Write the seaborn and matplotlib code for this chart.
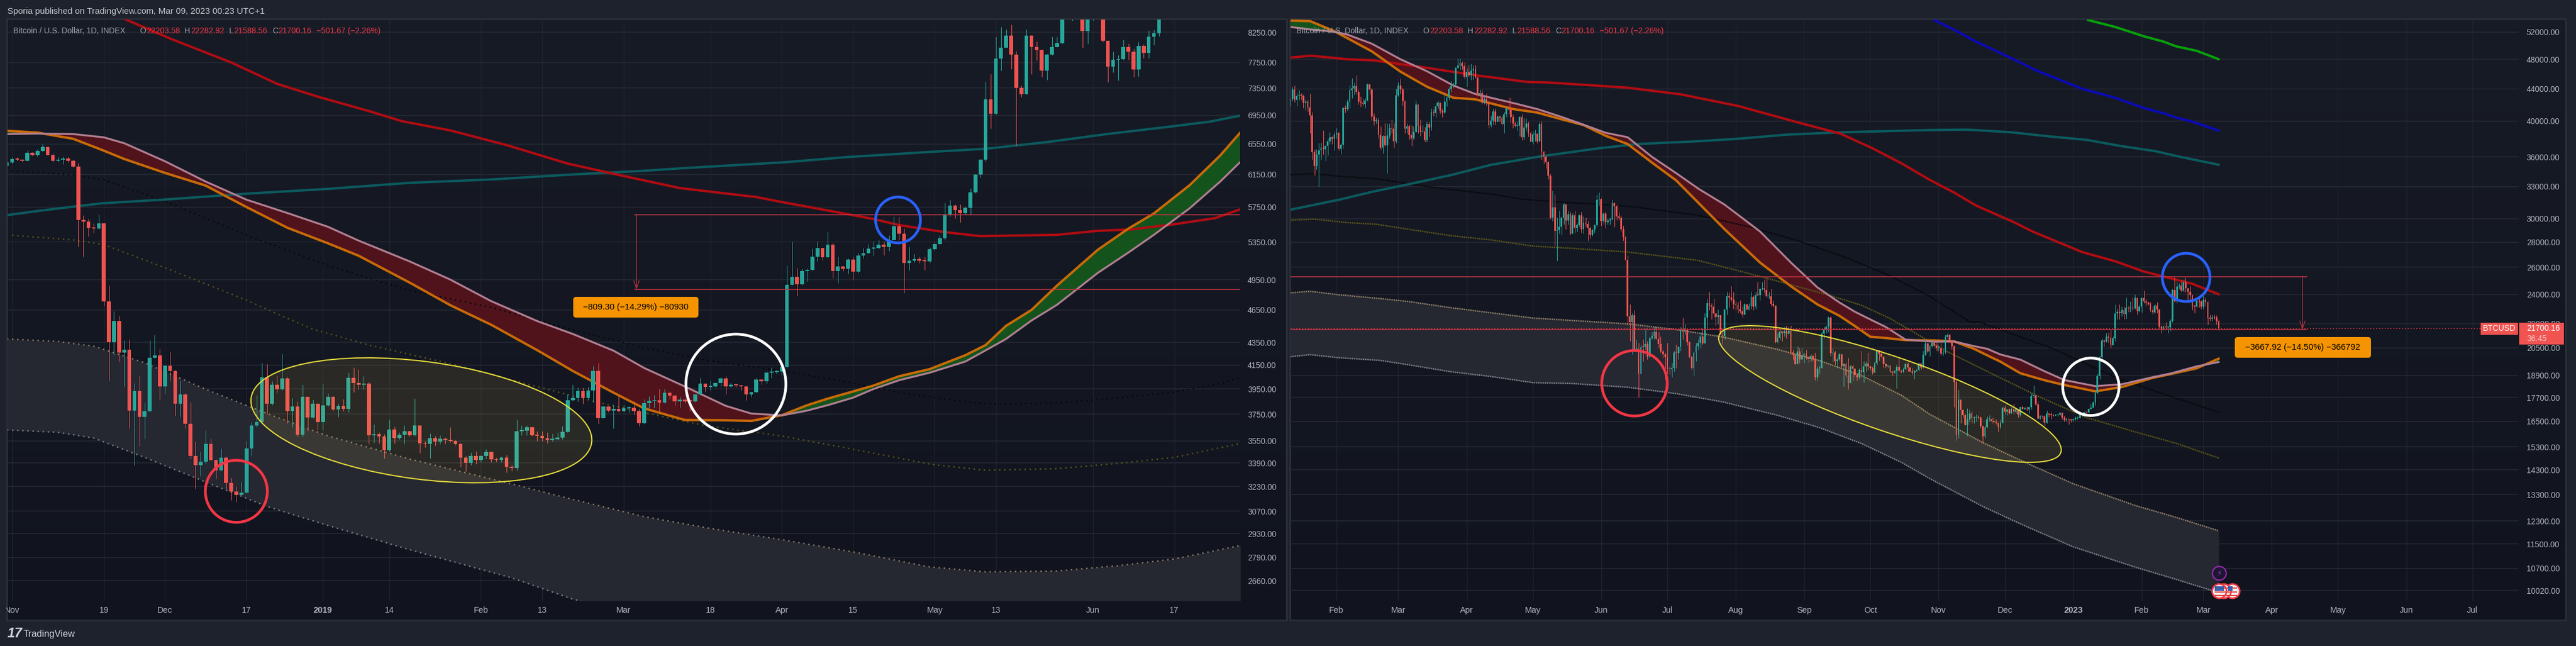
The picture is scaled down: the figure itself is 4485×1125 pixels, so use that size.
import matplotlib
matplotlib.use("Agg")
import matplotlib.pyplot as plt
import numpy as np
import pandas as pd
import seaborn as sns
from matplotlib.colors import LinearSegmentedColormap
from matplotlib.patches import Ellipse, FancyBboxPatch, Rectangle, Circle
from matplotlib.transforms import Affine2D

W, H = 4485, 1125

# ---------- left pane: Nov 2018 - Jun 2019, day 0 = 1 Nov 2018 ----------
first_open1 = 6260
close1 = [6305,6347,6345,6325,6430,6405,6455,6510,6405,6325,6345,6360,6325,6250,5602,5580,5510,5500,5560,4733,4350,4545,4260,4285,3780,3935,3727,3775,4215,4235,
3970,4145,4100,3830,3905,3675,3440,3375,3400,3525,3410,3340,3430,3255,3195,3175,3190,3495,3665,3690,4045,3830,3985,3945,4035,3775,3810,3595,3885,3725,
3830,3690,3820,3885,3785,3815,3790,4040,4000,3985,3995,3590,3600,3580,3480,3635,3570,3595,3620,3590,3665,3530,3525,3570,3545,3565,3555,3548,3525,3430,
3390,3440,3410,3440,3470,3415,3410,3430,3365,3355,3620,3625,3650,3590,3585,3570,3555,3560,3575,3615,3860,3880,3935,3880,3940,4100,3720,3810,3780,3790,
3775,3795,3800,3775,3680,3835,3853,3858,3842,3920,3897,3850,3862,3852,3850,3905,3995,3965,3970,4000,4035,3970,3985,3980,3972,3905,3925,4030,4015,4085,
4090,4095,4135,4900,4980,4905,5040,5050,5190,5285,5185,5320,5040,5085,5065,5160,5030,5200,5230,5280,5285,5320,5295,5375,5525,5440,5125,5145,5165,5150,
5140,5270,5325,5390,5665,5765,5710,5680,5740,5925,6150,6345,7180,6975,7815,7990,8195,7880,7350,7260,8195,8000,7950,7620,7880,8000,8065,8560,8800,8950,
8800,8265,8600,8800,8950,8105,7680,7790,7800,8000,7925,7640,8015,7910,8170,8235,8500]
high1 = [6330,6375,6375,6350,6470,6440,6475,6545,6520,6425,6380,6380,6380,6340,6300,5655,5610,5560,5660,5565,4890,4635,4595,4365,4375,4000,4060,3840,4365,4420,
4295,4150,4270,4110,4020,3915,3840,3545,3470,3630,3565,3415,3495,3435,3290,3230,3260,3550,3690,3900,4170,4160,4015,4060,4250,4050,3880,3850,3985,3885,
3865,3830,3995,3915,3890,3830,3870,4085,4130,4115,4055,4010,3670,3610,3600,3705,3655,3610,3665,3625,3875,3665,3550,3605,3585,3590,3575,3650,3555,3530,
3440,3465,3475,3445,3490,3475,3430,3435,3450,3380,3705,3665,3665,3655,3620,3620,3610,3605,3610,3660,3910,3985,3960,3960,3965,4145,4170,3815,3815,3825,
3895,3825,3815,3850,3790,3870,3890,3900,3950,3950,3925,3905,3885,3875,3865,3910,4040,3995,4020,4005,4050,4055,4000,3995,3985,3975,3930,4040,4030,4095,
4130,4110,4145,5100,5350,5070,5065,5070,5280,5355,5290,5470,5340,5190,5090,5170,5190,5235,5285,5325,5360,5370,5355,5425,5640,5630,5500,5295,5220,5190,
5190,5290,5345,5425,5800,5835,5780,5780,5755,5980,6155,6350,7450,7570,8175,8340,8300,8380,7930,7390,8300,8200,8095,7960,7885,8175,8170,8620,8950,9000,
9000,8900,8900,8900,9050,8950,8100,7920,7870,8125,8060,7970,8090,8050,8275,8290,8520]
low1 = [6260,6290,6330,6315,6320,6395,6390,6445,6400,6310,6315,6280,6305,6245,5300,5190,5410,5450,5490,4685,4020,4240,4180,3970,3640,3370,3510,3565,3770,4210,
3860,3910,4020,3740,3730,3640,3420,3215,3300,3385,3405,3280,3335,3215,3140,3130,3175,3185,3440,3650,3680,3750,3825,3920,3940,3680,3650,3580,3580,3625,
3720,3630,3630,3810,3780,3730,3775,3765,3925,3945,3945,3525,3535,3530,3425,3475,3530,3560,3525,3580,3585,3460,3500,3425,3515,3525,3525,3540,3520,3365,
3330,3375,3385,3395,3420,3395,3400,3395,3325,3335,3340,3590,3590,3585,3550,3550,3530,3545,3555,3560,3610,3855,3850,3830,3870,3840,3675,3720,3770,3640,
3770,3770,3765,3745,3660,3675,3795,3800,3768,3835,3870,3820,3800,3835,3775,3845,3900,3930,3940,3960,3970,3910,3965,3965,3940,3860,3885,3920,3985,3995,
4040,4075,4065,4130,4895,4790,4895,4935,5045,5140,5155,5180,4965,4915,5040,5010,4950,5020,5170,5225,5205,5280,5210,5250,5370,5370,4815,5045,5130,5125,
5050,5130,5260,5320,5370,5640,5620,5570,5665,5660,5920,6110,6320,6760,6965,7620,7990,7650,6525,7215,7260,7570,7780,7520,7480,7870,7995,8060,8500,8450,
8700,7990,8060,8450,8600,8090,7440,7590,7470,7790,7790,7520,7530,7820,7820,8040,8180]

ticks_y1 = [8250,7750,7350,6950,6550,6150,5750,5350,4950,4650,4350,4150,3950,3750,3550,3390,3230,3070,2930,2790,2660]
ticks_x1 = [0,18,30,46,61,74,92,104,120,137,151,165,181,193,212,228]
labels_x1 = ["Nov","19","Dec","17","2019","14","Feb","13","Mar","18","Apr","15","May","13","Jun","17"]

ma_red_x1 = [22,31.5,43,52,60.5,70,76.5,86,97,109,119,124,131,146,151,158,169,174,183,190,205,213,219.5,228,236,241]
ma_red_y1 = [8480,8125,7750,7415,7210,7010,6865,6735,6535,6290,6145,6075,5980,5870,5810,5732,5610,5540,5460,5415,5430,5475,5490,5550,5620,5725]
ma_teal_x1 = [-1,5.6,12,17.7,30,46,62,78,94,110.5,124,132,151.5,164,180.5,191,203,215,227,235,241]
ma_teal_y1 = [5655,5708,5755,5795,5840,5911,5970,6045,6087,6152,6197,6232,6307,6376,6445,6485,6575,6687,6787,6859,6945]
ribbon_x1 = [-1,5,12,18,22,30,38,46,54,62,68,78,86,94,103,110,118,124,132,140,145,151,156,160,165,169,174,180,187,191,195,200,205,213,219,224,231,237,241]
ribbon_fast1 = [6730,6705,6620,6460,6350,6170,6010,5750,5510,5335,5200,4920,4695,4510,4280,4100,3920,3795,3705,3703,3698,3742,3820,3872,3930,3978,4055,4115,4235,4325,4500,4650,4890,5265,5500,5675,6015,6395,6710]
ribbon_slow1 = [6685,6692,6685,6640,6560,6320,6060,5838,5680,5520,5365,5140,4950,4735,4545,4425,4275,4125,3970,3815,3755,3740,3778,3820,3880,3950,4022,4085,4180,4278,4380,4550,4700,5020,5235,5430,5735,6060,6315]
dots_black_x1 = [0,12,18,30,46,62,78,94,109,124,136,151,164,176.5,188.5,193,205,217,228,237,241]
dots_black_y1 = [6195,6145,6083,5818,5425,5095,4840,4675,4475,4300,4195,4100,4005,3905,3840,3830,3838,3878,3925,3995,4045]
dots_olive_x1 = [0,12,18,30,46,54,59,70,86,102,114.5,124,136,151,164,180.5,191,205,217,228,241]
dots_olive_y1 = [5425,5373,5322,5073,4745,4570,4470,4325,4162,3980,3847,3763,3662,3585,3495,3380,3340,3351,3388,3430,3530]
band_x1 = [-1,9,16,26,38,50,62,78,98,110,124,137,151,165,180,191,205,217,228,241]
band_top1 = [4380,4357,4315,4170,3947,3755,3585,3418,3247,3145,3035,2962,2894,2822,2736,2708,2713,2743,2781,2860]
band_low1 = [3630,3612,3570,3430,3260,3100,2980,2835,2675,2560,2470,2400,2340,2300,2260,2240,2230,2240,2260,2290]
range_top1, range_bottom1, range_day1 = 5660, 4850.7, 122.5

# ---------- right pane: Jan 2022 - Mar 2023, day 0 = 11 Jan 2022 ----------
first_open2 = 41800
close2 = [42730,43920,42590,43100,43180,43110,42250,42370,41660,40680,36470,35070,36270,36690,37010,36820,37170,37700,38150,37920,38480,
38690,36900,37320,41570,41410,42390,43840,44080,44340,43570,42390,42240,42060,42540,44550,43870,40540,40000,40110,38370,37020,38240,37270,38340,39210,39120,37700,43190,
44420,43920,42450,39140,39400,38420,38020,38740,41980,39440,38730,38810,37790,39670,39280,41120,40920,41760,42200,41260,41000,42370,42890,43960,44350,44540,46820,47130,47430,47070,45530,
46290,45810,46400,46620,45500,43170,43450,42250,42750,42160,39530,40070,41140,39930,40550,40400,39680,40800,41500,41370,40480,39700,39450,39450,40440,38110,39240,39740,38600,37640,
38470,38530,37720,39690,36550,36010,35470,34040,30080,31000,28940,28970,29280,30070,31300,29860,30420,28700,30310,29200,29430,30290,29100,29650,29540,29190,28620,29020,29450,31720,31790,
29800,30450,29700,29860,29900,31370,31130,30200,30080,29080,28400,26570,22480,22130,22570,20380,20450,19000,20570,20560,20720,19970,21100,21230,21490,21040,20730,20280,20100,19950,
19260,19240,19300,20220,20180,20550,21620,21590,21590,20850,19960,19320,20210,20580,20820,21190,20780,22430,23390,23220,23150,22680,22450,22580,21310,21240,22960,23850,23770,23640,23300,
23270,22980,22820,22620,23290,22960,23170,23810,23150,23950,23930,24400,24440,24300,23850,23880,23330,23210,20830,21130,21520,21400,21530,21370,21560,20240,20040,19550,20290,19800,20050,
20130,19950,19830,20000,19800,18790,19290,19320,21360,21650,21830,22400,20170,20230,19700,19800,20110,19420,19540,18880,18480,19400,19290,18920,18810,19220,19080,19410,19590,19420,
19310,19050,19620,20340,20160,19960,19530,19420,19440,19130,19060,19150,19380,19180,19070,19260,19550,19330,19120,19040,19160,19200,19570,19330,20090,20770,20290,20600,20820,20630,20490,
20490,20150,20210,21150,21300,20920,20600,18540,15880,17590,17070,16800,16340,16620,16900,16660,16690,16700,16690,16280,15780,16220,16600,16600,16520,16460,16430,16210,16440,17170,
16970,17090,16890,17110,16970,17090,16840,17220,17130,17130,17090,17210,17780,17810,17360,16630,16780,16740,16440,16900,16830,16820,16780,16840,16840,16920,16700,16550,16630,16600,16540,
16610,16670,16670,16850,16830,16950,16940,17120,17180,17440,17940,18850,19930,20960,20880,21190,21140,20680,21080,22670,22780,22710,22920,22630,23060,23010,23080,23030,23750,22830,23130,
23730,23490,23430,23320,22930,22760,23240,22960,21800,21630,21860,21780,21780,22200,24330,23520,24570,24630,24280,24840,24450,24190,23940,23190,23160,23560,23490,23140,
23640,23470,22360,22350,22430,22410,22200,21700]
high2 = [43100,44300,44400,43450,43800,43480,43200,42680,42570,43400,41100,36800,36800,37500,37550,38900,37220,38000,38700,38300,38700,
39200,38700,37500,41700,41950,42650,44500,45400,44800,45800,43900,43000,42700,42800,44700,44600,44150,40950,40400,40430,39400,38400,39800,39700,39700,40200,39800,44000,
44900,45300,44100,42500,39700,39600,39500,39400,42500,42000,40200,39500,39300,39900,39900,41500,41450,42300,42400,42300,41500,43300,43000,44200,45000,44800,46900,48100,48100,47700,47600,
46700,47200,47400,47100,47200,45500,43900,43900,43000,43400,42400,40700,41500,41500,40700,40700,40600,41100,41700,42900,42900,40800,39900,39900,40600,40800,40400,40300,39900,38800,
38800,39000,38600,39900,40000,36600,36100,35500,34200,32600,32200,30100,30700,30200,31400,31200,30700,30600,30500,30700,29600,30400,30600,30200,30100,29800,29300,29100,29500,32200,32400,
31900,30600,30600,30000,30100,31700,31500,31300,30600,30300,29400,28500,26900,23300,22700,22900,21000,20800,20700,21000,21700,20900,21200,21500,21800,21800,21500,21200,20400,20200,
20800,19400,19600,20300,20700,20600,21800,22400,22000,21600,20900,20000,20200,20800,21000,21500,21700,22700,23700,24200,23400,23700,22700,22950,22600,21500,23000,24200,24100,24600,24200,
23500,23450,23600,23200,23400,23350,23400,24200,23900,24200,24900,24450,24900,25050,25200,24200,24400,23600,23200,21400,21700,21500,21800,21900,21800,21900,20400,20150,20600,20500,20500,
20200,20400,20000,20100,20100,20200,19400,19450,21500,21800,21900,22500,22500,20500,20300,19900,20200,20100,19600,19650,19900,19500,19500,19300,19000,19300,20300,19700,19700,20200,
19450,19400,19700,20400,20350,20400,19950,19600,19500,19500,19150,19200,19500,19900,19200,19350,19650,19650,19350,19300,19200,19250,19650,19600,20300,21000,20850,20700,20900,20900,20800,
20650,20800,20400,21300,21450,21350,20950,20650,18600,18100,17600,17100,16900,17150,17100,17000,16750,16850,16800,16750,16300,16300,16750,16800,16700,16700,16600,16450,16600,17250,
17300,17100,17150,17200,17400,17100,17100,17250,17300,17200,17250,17250,17950,18350,17850,17500,16800,16800,16800,17050,16900,16950,16850,16850,16900,16950,16950,16780,16670,16650,16650,
16630,16750,16760,16960,16880,16990,16980,17150,17390,17490,18000,19000,20000,21100,21000,21400,21450,21600,21200,23300,23000,23300,23150,23150,23800,23200,23500,23800,24000,23800,23250,
23800,24250,23700,23500,23450,23150,23300,23450,23000,21900,21900,22100,21900,22300,24400,25250,24950,24800,25000,25100,25250,24300,24600,24000,23250,23700,23900,23600,
23900,23800,23500,22600,22600,22600,22550,22280]
low2 = [41300,42450,42300,41800,42600,42600,41600,41300,41150,38600,35700,34100,34700,33000,35700,36250,35600,36200,37400,37350,36700,
38000,36700,36300,36900,41000,41200,41600,42800,43200,43200,42000,41700,41900,41600,42400,43300,40100,39500,39700,38000,36800,36400,37100,34300,38000,38600,37000,37500,
43000,43400,41900,38600,38600,37900,37200,37900,38700,38600,38300,38700,37600,37600,38200,38900,40600,40500,41500,40900,40500,40900,41800,42600,43600,44100,44400,46700,46600,46600,45300,
44300,45600,45200,45200,45400,43000,42800,42100,42100,41900,39200,39300,39600,39600,39900,39900,39500,38600,40500,40900,39800,39200,39300,38900,38300,37800,37900,38900,38200,37600,
37400,37700,37500,37600,35700,35300,34800,33700,30000,29800,27700,26500,28700,28600,29500,29100,29500,28600,28700,28800,28900,29300,28800,28700,29300,28100,28300,28500,28800,29300,31200,
29400,29500,29200,29500,29500,29900,29300,29900,29900,28900,28100,26600,21900,20900,20100,20300,20300,17700,19000,19700,20400,19800,19900,21000,21000,21000,20500,20200,19900,18700,
19000,18950,18800,19100,19300,19800,20300,21000,21300,20650,19900,19250,18900,19700,20400,20500,20700,20800,21600,22900,22300,22400,21900,22000,21300,20700,21000,22600,23100,23500,23000,
22900,22700,22700,22400,22600,22900,22900,23000,22900,23000,23900,23600,24300,24100,23800,23700,23200,23100,20800,20800,21000,20900,21200,21100,21300,20100,19800,19500,19600,19600,19900,
19600,19800,19650,19700,19700,18650,18600,19000,19300,21100,21400,21500,20000,19650,19500,19300,19700,19300,18300,18800,18150,18500,18600,18800,18600,18700,18800,18500,19100,19200,
19200,18950,19050,19500,19750,19900,19350,19300,19350,19050,18900,19000,18200,19100,19050,19050,19200,19100,19100,18950,18700,19100,19150,19250,19300,20050,20200,20000,20550,20550,20300,
20300,20050,20050,20150,21000,20800,20400,17200,15600,15700,16400,16700,16300,15800,16500,16400,16400,16500,16600,16200,15500,15700,16200,16500,16400,16400,16350,16000,16150,16400,
16850,16800,16850,16900,16850,16900,16700,16750,17100,17080,17050,16900,17100,17700,17300,16600,16600,16650,16300,16400,16730,16600,16750,16800,16750,16800,16600,16500,16500,16350,16480,
16500,16550,16620,16660,16750,16750,16910,16920,17100,17180,17300,17900,18700,19900,20600,20850,20800,20500,20650,20900,22300,22300,22500,22300,22350,22800,22800,22900,23000,22600,22800,
22750,23400,23200,23250,22800,22650,22700,22700,21700,21400,21600,21650,21400,21550,22100,23500,23400,24400,24200,24200,24150,23600,23600,22900,22700,23100,23100,23000,
23000,23200,21950,22200,22200,22300,21950,21590]

ticks_y2 = [52000,48000,44000,40000,36000,33000,30000,28000,26000,24000,22000,20500,18900,17700,16500,15300,14300,13300,12300,11500,10700,10020]
ticks_x2 = [21,49,80,110,141,171,202,233,263,294,324,355,386,414,445,475,506,536]
labels_x2 = ["Feb","Mar","Apr","May","Jun","Jul","Aug","Sep","Oct","Nov","Dec","2023","Feb","Mar","Apr","May","Jun","Jul"]

ma_green_x2 = [361.6,374,387,396,401.6,411,421]
ma_green_y2 = [53900,52800,51370,50560,49870,49210,48000]
ma_blue_x2 = [292,301,311,328,338,359,374,387,396,401.6,409,421]
ma_blue_y2 = [53900,52360,50560,48000,46480,44000,42850,41580,40940,40430,39930,38890]
ma_red_x2 = [0,9.5,26,37.5,60,84,108,117,153,177,203,229,249.5,264,277.5,290,301,311,328,336.5,359,374,387,396,409,421]
ma_red_y2 = [48240,48510,48000,47860,46900,45790,44880,44830,44140,43290,41830,39930,38540,36920,35270,33630,32400,31180,29700,28890,27190,26460,25670,25290,24760,24000]
ma_teal_x2 = [0,22.5,37.5,54,73,91,114,140,157,184.5,203,225,249.5,290,307,327,344,361,377,392,403.5,421]
ma_teal_y2 = [30800,31740,32490,33220,34120,35160,36070,36920,37380,37690,37970,38430,38700,38960,39010,38700,38240,37850,37150,36620,36000,35170]
ribbon_x2 = [0,9,20,26,37,50,62,74,84,101,112,123,133,143,153,164,175,185,197,213,227,239,249,256,263,270,279,292,301,310,316,322,331,342,351,365,377,391,399,411,421]
ribbon_fast2 = [53800,53720,52150,51070,49140,46280,44270,42850,42650,41450,41020,40220,39540,38310,37380,35400,33580,31450,29070,26360,24580,23300,22530,21860,21180,21100,20970,20950,20890,20440,20050,19680,19020,18630,18370,18030,18260,18760,18970,19300,19860]
ribbon_slow2 = [52800,52420,52060,51610,50260,48000,46340,44420,43320,42200,41450,40500,39580,38650,38140,36000,34310,32780,31260,28890,26360,24500,23430,22800,22290,21800,21000,20870,20890,20600,20440,20100,19800,19130,18640,18310,18410,18800,19000,19410,19660]
dots_black_x2 = [0,9.5,22.5,41,54,73,91.4,106,125,138,154.6,184,208.5,229,253,271.7,290,308.6,312,346,374,401.6,421]
dots_black_y2 = [34150,34260,34000,33700,33230,32680,32250,31750,31470,31340,31090,30340,29280,28180,26690,25360,23850,22100,22140,20440,18800,17665,16950]
dots_olive_x2 = [0,11,26,39,54,73,91,110,128.5,153,184.5,203,222,244.5,259,272,297,318,340,361,383,401.6,421]
dots_olive_y2 = [29870,29960,29650,29510,29070,28530,28180,27670,27480,27190,26540,25740,24910,23930,23240,22350,20330,19000,17720,16690,16000,15470,14810]
band_x2 = [0,9,22,41,54,73,91,110,128,153,175,196,221,240,259,277,290,314,333,355,383,401,421]
band_top2 = [24100,24220,23970,23700,23490,23070,22730,22380,22220,22000,21630,21170,20400,19740,18890,17830,16850,15500,14630,13730,12880,12450,11950]
band_low2 = [19970,20090,19910,19750,19490,19100,18840,18500,18450,18250,17910,17480,16800,16200,15460,14630,13940,12840,12130,11400,10740,10370,9960]
range_top2, range_bottom2, range_day2, range_end2 = 25296, 21628, 458.9, 461

last_price = 21700.16

TEAL, RED = "#26a69a", "#ef5350"
LINE_RED = "#f23645"
sns.set_theme(style="dark", rc={"font.family": ["Liberation Sans"], "axes.grid": False})

fig = plt.figure(figsize=(W / 100, H / 100), dpi=100, facecolor="#1e222d")
px = Affine2D().scale(1 / W, -1 / H).translate(0, 1) + fig.transFigure
grad = LinearSegmentedColormap.from_list("pane", ["#171b26", "#11141e"])


def add_axes_px(left, top, right, bottom, **kw):
    return fig.add_axes([left / W, 1 - bottom / H, (right - left) / W, (bottom - top) / H], **kw)


def draw_block(left, right):
    bg = add_axes_px(left, 34, right, 1080, zorder=-5)
    bg.imshow(np.linspace(0, 1, 64)[:, None], aspect="auto", cmap=grad)
    bg.axis("off")
    for rect in [(left - 2, 32, right - left + 4, 3), (left - 2, 1079, right - left + 4, 3),
                 (left - 2, 32, 3, 1050), (right - 1, 32, 3, 1050)]:
        fig.add_artist(Rectangle(rect[:2], rect[2], rect[3], transform=px, color="#2a2e39", lw=0, zorder=-4))


def draw_candles(ax, days, first_open, closes, highs, lows, width):
    closes = np.array(closes, float)
    opens = np.r_[first_open, closes[:-1]]
    highs = np.maximum.reduce([np.array(highs, float), opens, closes])
    lows = np.minimum.reduce([np.array(lows, float), opens, closes])
    colors = [TEAL if c >= o else RED for o, c in zip(opens, closes)]
    ax.vlines(days, lows, highs, colors=colors, lw=0.75, zorder=3)
    bottoms = np.minimum(opens, closes)
    heights = np.maximum(np.abs(closes - opens), bottoms * 0.0022)
    ax.bar(days, heights, bottom=bottoms, width=width, color=colors, lw=0, zorder=3.1)


def line(ax, x, y, color, lw, ls="-", z=2.0, alpha=1.0):
    sns.lineplot(x=x, y=y, ax=ax, color=color, linewidth=lw, linestyle=ls, estimator=None,
                 sort=False, legend=False, zorder=z, alpha=alpha)


def setup_axes(ax, xlim, ylim, ticks_x, labels_x, ticks_y, pad):
    ax.set_yscale("log")
    ax.set_facecolor("none")
    ax.set_autoscale_on(False)
    ax.set_xlim(*xlim)
    ax.set_ylim(*ylim)
    ax.minorticks_off()
    ax.yaxis.tick_right()
    ax.set_yticks(ticks_y)
    ax.set_yticklabels([f"{v:.2f}" for v in ticks_y])
    ax.set_xticks(ticks_x)
    ax.set_xticklabels(labels_x)
    ax.minorticks_off()
    ax.tick_params(axis="y", which="both", length=0, pad=pad, labelsize=10, colors="#b2b5be")
    ax.tick_params(axis="x", which="both", length=0, pad=7, labelsize=10.6, colors="#b2b5be")
    for lab in ax.get_xticklabels():
        if lab.get_text() in ("2019", "2023"):
            lab.set_fontweight("bold")
    ax.grid(axis="y", color="#262a35", lw=1.1, zorder=0)
    ax.grid(axis="x", color="#20242f", lw=0.9, zorder=0)
    ax.set_axisbelow(True)
    ax.set_xlabel("")
    ax.set_ylabel("")
    for s in ax.spines.values():
        s.set_visible(False)


def draw_lines(ax, band_x, band_top, band_low, rib_x, fast, slow):
    ax.fill_between(band_x, band_low, band_top, color="#252731", lw=0, zorder=1)
    fast = np.array(fast, float)
    slow = np.array(slow, float)
    ax.fill_between(rib_x, fast, slow, where=slow >= fast, interpolate=True, color="#50131c", lw=0, zorder=1.5)
    ax.fill_between(rib_x, fast, slow, where=slow <= fast, interpolate=True, color="#14541c", lw=0, zorder=1.5)


def ring(ax, day, price, w, h, angle, edge, lw, face="none"):
    cx, cy = px.inverted().transform(ax.transData.transform((day, price)))
    e = Ellipse((cx, cy), w, h, angle=angle, transform=px, edgecolor=edge, facecolor=face, lw=lw, zorder=5, clip_on=False)
    ax.add_patch(e)
    return e


def range_tool(ax, day, top, bottom, x0, x1):
    ax.hlines([top, bottom], x0, x1, color="#c2343f", lw=1.2, zorder=4)
    ax.annotate("", xy=(day, bottom), xytext=(day, top), zorder=4,
                arrowprops=dict(arrowstyle="->,head_width=0.28,head_length=0.8", color="#c2343f", lw=0.9, shrinkA=0, shrinkB=0))


def orange_box(x0, y0, x1, y1, text):
    fig.add_artist(FancyBboxPatch((x0 + 4, y0 + 4), x1 - x0 - 8, y1 - y0 - 8, boxstyle="round,pad=4,rounding_size=5",
                                  transform=px, fc="#f59300", ec="none", zorder=8))
    fig.text((x0 + x1) / 2 / W, 1 - (y0 + y1) / 2 / H, text, color="#000000", fontsize=10.8, ha="center", va="center", zorder=9)


def legend_row(offset):
    y = 1 - 54 / H
    fig.text((23 + offset) / W, y, "Bitcoin / U.S. Dollar, 1D, INDEX", color="#9ea1a9", fontsize=10, va="center", zorder=9)
    for x, s, c in [(243, "O", "#9ea1a9"), (255, "22203.58", LINE_RED), (321, "H", "#9ea1a9"), (332, "22282.92", LINE_RED),
                    (399, "L", "#9ea1a9"), (407, "21588.56", LINE_RED), (474, "C", "#9ea1a9"), (484, "21700.16", LINE_RED),
                    (551, "\u2212501.67 (\u22122.26%)", LINE_RED)]:
        fig.text((x + offset) / W, y, s, color=c, fontsize=10, va="center", zorder=9)


draw_block(13, 2240)
draw_block(2247, 4467)

# left pane
ax1 = add_axes_px(13, 34, 2159, 1046, zorder=1)
setup_axes(ax1, (-0.9, 240.9), (2552, 8468), ticks_x1, labels_x1, ticks_y1, 9.4)
draw_lines(ax1, band_x1, band_top1, band_low1, ribbon_x1, ribbon_fast1, ribbon_slow1)
line(ax1, band_x1, band_top1, "#8c7b66", 1.8, (0, (1, 2.55)))
line(ax1, band_x1, band_low1, "#7b7d84", 1.8, (0, (1, 2.55)))
line(ax1, dots_black_x1, dots_black_y1, "#06070a", 1.8, (0, (1, 2.55)))
line(ax1, dots_olive_x1, dots_olive_y1, "#5a5518", 1.8, (0, (1, 2.55)))
line(ax1, ma_teal_x1, ma_teal_y1, "#0b5a5e", 3.0)
line(ax1, ma_red_x1, ma_red_y1, "#b10c12", 3.0)
line(ax1, ribbon_x1, ribbon_fast1, "#c96a08", 3.0, z=2.2)
line(ax1, ribbon_x1, ribbon_slow1, "#b07f92", 2.4, z=2.3)
draw_candles(ax1, list(range(-1, len(close1) - 1)), first_open1, close1, high1, low1, 0.74)
range_tool(ax1, range_day1, range_top1, range_bottom1, 122, 240.9)
ring(ax1, 80.3, 3703, 598, 205, 7.44, "#e6dc3a", 1.5, face=(0.96, 0.82, 0.35, 0.1))
ring(ax1, 44, 3198, 108, 108, 0, "#f23645", 3.4)
ring(ax1, 142, 3990, 174, 174, 0, "#ffffff", 3.4)
ring(ax1, 173.8, 5599, 78, 80, 0, "#2962ff", 3.4)
orange_box(998, 517, 1216, 553, "\u2212809.30 (\u221214.29%) \u221280930")

# right pane
ax2 = add_axes_px(2247, 34, 4385, 1046, zorder=1)
setup_axes(ax2, (0.18, 556.9), (9727, 53970), ticks_x2, labels_x2, ticks_y2, 10)
draw_lines(ax2, band_x2, band_top2, band_low2, ribbon_x2, ribbon_fast2, ribbon_slow2)
line(ax2, band_x2, band_top2, "#8c7b66", 1.8, (0, (1, 0.54)))
line(ax2, band_x2, band_low2, "#7b7d84", 1.8, (0, (1, 0.54)))
line(ax2, dots_black_x2, dots_black_y2, "#06070a", 1.8, (0, (1, 0.54)))
line(ax2, dots_olive_x2, dots_olive_y2, "#5a5518", 1.8, (0, (1, 0.54)))
line(ax2, ma_teal_x2, ma_teal_y2, "#0b5a5e", 3.0)
line(ax2, ma_red_x2, ma_red_y2, "#b10c12", 3.0)
line(ax2, ma_blue_x2, ma_blue_y2, "#0a0ab8", 3.0)
line(ax2, ma_green_x2, ma_green_y2, "#07a10b", 3.0)
line(ax2, ribbon_x2, ribbon_fast2, "#c96a08", 3.0, z=2.2)
line(ax2, ribbon_x2, ribbon_slow2, "#b07f92", 2.4, z=2.3)
draw_candles(ax2, list(range(len(close2))), first_open2, close2, high2, low2, 0.72)
ax2.hlines(last_price, 0.18, 556.9, color=LINE_RED, lw=1.2, linestyles=(0, (1, 2)), zorder=4)
range_tool(ax2, range_day2, range_top2, range_bottom2, 0.18, range_end2)
ring(ax2, 271.9, 17890, 629, 130, 18.9, "#e6dc3a", 1.5, face=(0.96, 0.82, 0.35, 0.1))
ring(ax2, 156.1, 18466, 114, 114, 0, "#f23645", 3.4)
ring(ax2, 363, 18275, 98, 100, 0, "#ffffff", 3.4)
ring(ax2, 406.2, 25230, 83, 84, 0, "#2962ff", 3.4)
orange_box(3891, 587, 4128, 623, "\u22123667.92 (\u221214.50%) \u2212366792")

# price tag, event markers
fig.add_artist(Rectangle((4319, 562), 65, 21, transform=px, color="#f05350", lw=0, zorder=8))
fig.add_artist(Rectangle((4386, 562), 78, 38, transform=px, color="#f05350", lw=0, zorder=8))
fig.text(4351 / W, 1 - 572.5 / H, "BTCUSD", color="#ffffff", fontsize=10, ha="center", va="center", zorder=9)
fig.text(4399 / W, 1 - 572.5 / H, "21700.16", color="#ffffff", fontsize=10, va="center", zorder=9)
fig.text(4399 / W, 1 - 590.5 / H, "36:45", color="#f9c9c8", fontsize=10, va="center", zorder=9)

fig.add_artist(Circle((3864, 998.5), 12, transform=px, fc="#1a1830", ec="#9c27b0", lw=1.6, zorder=8))
fig.text(3864 / W, 1 - 998.5 / H, "\u26a1", color="#9c27b0", fontsize=11, family="DejaVu Sans", ha="center", va="center", zorder=9)
for fx in [3887, 3872, 3864]:
    fig.add_artist(Circle((fx, 1029.5), 12.5, transform=px, fc="#f0f0f0", ec="#f23645", lw=2.0, zorder=8))
    for stripe in [-7, 0, 6]:
        fig.add_artist(Rectangle((fx - 8, 1029.5 + stripe), 16, 2.5, transform=px, color="#e8413f", lw=0, zorder=8.1))
    fig.add_artist(Rectangle((fx - 8, 1021), 8, 8, transform=px, color="#3b5fa8", lw=0, zorder=8.2))

# clipped first time label on the left pane edge
fig.add_artist(Rectangle((0, 1050), 11, 30, transform=px, color="#1e222d", lw=0, zorder=7))

legend_row(0)
legend_row(2234)
fig.text(13 / W, 1 - 20 / H, "Sporia published on TradingView.com, Mar 09, 2023 00:23 UTC+1", color="#c7c9cf", fontsize=11, va="center")
fig.text(13 / W, 1 - 1104 / H, "17", color="#d1d4dc", fontsize=17, fontweight="bold", style="italic", va="center")
fig.text(41 / W, 1 - 1105 / H, "TradingView", color="#d1d4dc", fontsize=11.8, va="center")

fig.savefig("out.png", dpi=100, facecolor=fig.get_facecolor())
